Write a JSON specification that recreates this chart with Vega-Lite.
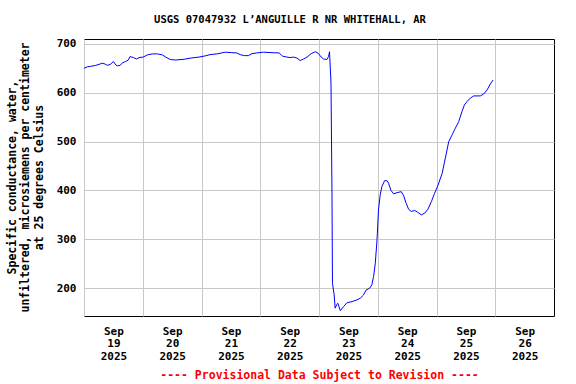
{
  "$schema": "https://vega.github.io/schema/vega-lite/v6.json",
  "width": 470,
  "height": 277,
  "autosize": "none",
  "padding": {"left": 84, "top": 39, "right": 22, "bottom": 68},
  "title": {
    "text": "USGS 07047932 L’ANGUILLE R NR WHITEHALL, AR",
    "font": "DejaVu Sans Mono",
    "fontWeight": "bold",
    "fontSize": 10.5,
    "color": "black",
    "anchor": "middle",
    "offset": 12,
    "dx": -29
  },
  "data": {
    "values": [
      {"t": "2025-09-19T00:00:00Z", "v": 650},
      {"t": "2025-09-19T01:21:00Z", "v": 653},
      {"t": "2025-09-19T02:44:00Z", "v": 654},
      {"t": "2025-09-19T04:48:00Z", "v": 656},
      {"t": "2025-09-19T06:06:00Z", "v": 658},
      {"t": "2025-09-19T07:30:00Z", "v": 660.5},
      {"t": "2025-09-19T08:30:00Z", "v": 659},
      {"t": "2025-09-19T09:30:00Z", "v": 656},
      {"t": "2025-09-19T10:54:00Z", "v": 658.5},
      {"t": "2025-09-19T12:00:00Z", "v": 664},
      {"t": "2025-09-19T13:00:00Z", "v": 657},
      {"t": "2025-09-19T13:36:00Z", "v": 655},
      {"t": "2025-09-19T14:42:00Z", "v": 656},
      {"t": "2025-09-19T15:42:00Z", "v": 661},
      {"t": "2025-09-19T17:00:00Z", "v": 664},
      {"t": "2025-09-19T18:06:00Z", "v": 667},
      {"t": "2025-09-19T18:48:00Z", "v": 674},
      {"t": "2025-09-19T20:12:00Z", "v": 672},
      {"t": "2025-09-19T21:30:00Z", "v": 669},
      {"t": "2025-09-19T22:30:00Z", "v": 672},
      {"t": "2025-09-20T00:12:00Z", "v": 673},
      {"t": "2025-09-20T01:54:00Z", "v": 677.5},
      {"t": "2025-09-20T03:54:00Z", "v": 679.5},
      {"t": "2025-09-20T06:00:00Z", "v": 679.5},
      {"t": "2025-09-20T08:00:00Z", "v": 677.5},
      {"t": "2025-09-20T09:24:00Z", "v": 673},
      {"t": "2025-09-20T11:12:00Z", "v": 668},
      {"t": "2025-09-20T13:30:00Z", "v": 667},
      {"t": "2025-09-20T16:54:00Z", "v": 668.5},
      {"t": "2025-09-20T19:36:00Z", "v": 671},
      {"t": "2025-09-20T23:00:00Z", "v": 673},
      {"t": "2025-09-21T01:30:00Z", "v": 675.4},
      {"t": "2025-09-21T03:30:00Z", "v": 678},
      {"t": "2025-09-21T06:18:00Z", "v": 679.5},
      {"t": "2025-09-21T09:42:00Z", "v": 683},
      {"t": "2025-09-21T12:24:00Z", "v": 682},
      {"t": "2025-09-21T14:24:00Z", "v": 681.5},
      {"t": "2025-09-21T15:48:00Z", "v": 678},
      {"t": "2025-09-21T17:30:00Z", "v": 676},
      {"t": "2025-09-21T19:12:00Z", "v": 676},
      {"t": "2025-09-21T20:36:00Z", "v": 680},
      {"t": "2025-09-21T22:36:00Z", "v": 681.5},
      {"t": "2025-09-22T01:18:00Z", "v": 683},
      {"t": "2025-09-22T04:48:00Z", "v": 682},
      {"t": "2025-09-22T07:42:00Z", "v": 681.5},
      {"t": "2025-09-22T09:06:00Z", "v": 675},
      {"t": "2025-09-22T10:54:00Z", "v": 673},
      {"t": "2025-09-22T12:12:00Z", "v": 672},
      {"t": "2025-09-22T13:36:00Z", "v": 673},
      {"t": "2025-09-22T15:00:00Z", "v": 671},
      {"t": "2025-09-22T16:18:00Z", "v": 666},
      {"t": "2025-09-22T17:42:00Z", "v": 669},
      {"t": "2025-09-22T19:06:00Z", "v": 673},
      {"t": "2025-09-22T20:48:00Z", "v": 680},
      {"t": "2025-09-22T22:30:00Z", "v": 684},
      {"t": "2025-09-22T23:36:00Z", "v": 681},
      {"t": "2025-09-23T00:54:00Z", "v": 673},
      {"t": "2025-09-23T01:54:00Z", "v": 669},
      {"t": "2025-09-23T03:12:00Z", "v": 668},
      {"t": "2025-09-23T03:54:00Z", "v": 674},
      {"t": "2025-09-23T04:18:00Z", "v": 684},
      {"t": "2025-09-23T04:54:00Z", "v": 620},
      {"t": "2025-09-23T05:18:00Z", "v": 395},
      {"t": "2025-09-23T05:30:00Z", "v": 210},
      {"t": "2025-09-23T06:12:00Z", "v": 186},
      {"t": "2025-09-23T06:36:00Z", "v": 159},
      {"t": "2025-09-23T07:18:00Z", "v": 167},
      {"t": "2025-09-23T07:42:00Z", "v": 169},
      {"t": "2025-09-23T08:42:00Z", "v": 154},
      {"t": "2025-09-23T10:00:00Z", "v": 162},
      {"t": "2025-09-23T11:24:00Z", "v": 170},
      {"t": "2025-09-23T13:30:00Z", "v": 172.5},
      {"t": "2025-09-23T15:30:00Z", "v": 176},
      {"t": "2025-09-23T16:54:00Z", "v": 179.5},
      {"t": "2025-09-23T18:12:00Z", "v": 186},
      {"t": "2025-09-23T19:12:00Z", "v": 196},
      {"t": "2025-09-23T20:42:00Z", "v": 200},
      {"t": "2025-09-23T21:36:00Z", "v": 207},
      {"t": "2025-09-23T22:18:00Z", "v": 224},
      {"t": "2025-09-23T23:00:00Z", "v": 251},
      {"t": "2025-09-23T23:42:00Z", "v": 299},
      {"t": "2025-09-24T00:18:00Z", "v": 360},
      {"t": "2025-09-24T01:00:00Z", "v": 391},
      {"t": "2025-09-24T01:42:00Z", "v": 408},
      {"t": "2025-09-24T02:48:00Z", "v": 420},
      {"t": "2025-09-24T03:48:00Z", "v": 420},
      {"t": "2025-09-24T04:24:00Z", "v": 415},
      {"t": "2025-09-24T05:24:00Z", "v": 400},
      {"t": "2025-09-24T06:30:00Z", "v": 393},
      {"t": "2025-09-24T07:54:00Z", "v": 395.5},
      {"t": "2025-09-24T09:36:00Z", "v": 397.5},
      {"t": "2025-09-24T10:36:00Z", "v": 389},
      {"t": "2025-09-24T11:30:00Z", "v": 375},
      {"t": "2025-09-24T12:36:00Z", "v": 361.6},
      {"t": "2025-09-24T13:42:00Z", "v": 357},
      {"t": "2025-09-24T15:06:00Z", "v": 359},
      {"t": "2025-09-24T16:24:00Z", "v": 355},
      {"t": "2025-09-24T17:48:00Z", "v": 350},
      {"t": "2025-09-24T19:12:00Z", "v": 353.5},
      {"t": "2025-09-24T20:30:00Z", "v": 361.6},
      {"t": "2025-09-24T21:54:00Z", "v": 377},
      {"t": "2025-09-24T23:12:00Z", "v": 394},
      {"t": "2025-09-25T00:30:00Z", "v": 409},
      {"t": "2025-09-25T02:18:00Z", "v": 435},
      {"t": "2025-09-25T03:36:00Z", "v": 466},
      {"t": "2025-09-25T05:00:00Z", "v": 500},
      {"t": "2025-09-25T06:24:00Z", "v": 514},
      {"t": "2025-09-25T07:42:00Z", "v": 527.5},
      {"t": "2025-09-25T09:06:00Z", "v": 541},
      {"t": "2025-09-25T10:24:00Z", "v": 561.5},
      {"t": "2025-09-25T11:24:00Z", "v": 575},
      {"t": "2025-09-25T12:30:00Z", "v": 582},
      {"t": "2025-09-25T13:48:00Z", "v": 589},
      {"t": "2025-09-25T15:12:00Z", "v": 593.5},
      {"t": "2025-09-25T17:54:00Z", "v": 593.5},
      {"t": "2025-09-25T19:18:00Z", "v": 597.5},
      {"t": "2025-09-25T20:42:00Z", "v": 606},
      {"t": "2025-09-25T22:00:00Z", "v": 618},
      {"t": "2025-09-25T23:06:00Z", "v": 626}
    ]
  },
  "mark": {"type": "line", "color": "#0000ff", "strokeWidth": 1, "interpolate": "linear"},
  "encoding": {
    "x": {
      "field": "t",
      "type": "temporal",
      "scale": {
        "type": "utc",
        "domain": [
          {"year": 2025, "month": "sep", "date": 19, "utc": true},
          {"year": 2025, "month": "sep", "date": 27, "utc": true}
        ]
      },
      "axis": {
        "values": [
          {"year": 2025, "month": "sep", "date": 19, "utc": true},
          {"year": 2025, "month": "sep", "date": 20, "utc": true},
          {"year": 2025, "month": "sep", "date": 21, "utc": true},
          {"year": 2025, "month": "sep", "date": 22, "utc": true},
          {"year": 2025, "month": "sep", "date": 23, "utc": true},
          {"year": 2025, "month": "sep", "date": 24, "utc": true},
          {"year": 2025, "month": "sep", "date": 25, "utc": true},
          {"year": 2025, "month": "sep", "date": 26, "utc": true}
        ],
        "labelExpr": "[utcFormat(datum.value, '%b'), utcFormat(datum.value, '%d'), utcFormat(datum.value, '%Y')]",
        "labelOffset": 29.4,
        "labelPadding": 9,
        "labelLineHeight": 12.7,
        "labelBaseline": "top",
        "labelFlush": false,
        "labelOverlap": false,
        "labelBound": false,
        "title": "---- Provisional Data Subject to Revision ----",
        "titleColor": "#ff0000",
        "titleFontSize": 11.5,
        "titleX": 235,
        "titleY": 59,
        "titleAlign": "center",
        "titleBaseline": "middle"
      }
    },
    "y": {
      "field": "v",
      "type": "quantitative",
      "scale": {"domain": [143, 710], "nice": false, "zero": false},
      "axis": {
        "values": [200, 300, 400, 500, 600, 700],
        "labelPadding": 8,
        "title": ["Specific conductance, water,", "unfiltered, microsiemens per centimeter", "at 25 degrees Celsius"],
        "titleFontSize": 11.5,
        "titleLineHeight": 13.5,
        "titleX": -78,
        "titleY": 138,
        "titleAngle": -90,
        "titleAlign": "center",
        "titleBaseline": "top"
      }
    }
  },
  "config": {
    "background": "white",
    "view": {"stroke": "black", "strokeWidth": 1},
    "axis": {
      "labelFont": "DejaVu Sans Mono",
      "labelFontWeight": "bold",
      "labelFontSize": 11,
      "labelColor": "black",
      "titleFont": "DejaVu Sans Mono",
      "titleFontWeight": "bold",
      "titleColor": "black",
      "ticks": false,
      "tickSize": 0,
      "domain": false,
      "grid": true,
      "gridColor": "#c8c8c8",
      "gridWidth": 1,
      "gridOpacity": 1
    }
  }
}
